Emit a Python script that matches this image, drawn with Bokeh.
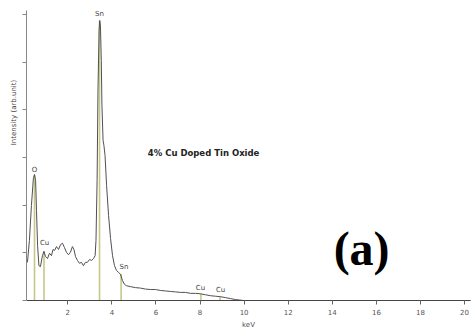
import math
from bokeh.plotting import figure
from bokeh.models import Range1d, FixedTicker, Label
from bokeh.core.properties import value
from bokeh.embed import file_html
from bokeh.resources import INLINE

# Spectrum (keV, intensity in arbitrary units; one unit = one y tick interval)
kev = [0.17, 0.26, 0.35, 0.44, 0.49, 0.54, 0.58, 0.63, 0.69, 0.76, 0.85, 0.92,
       0.99, 1.08, 1.17, 1.26, 1.33, 1.40, 1.49, 1.58, 1.67, 1.76, 1.85, 1.94,
       2.03, 2.12, 2.21, 2.28, 2.35, 2.44, 2.53, 2.62, 2.71, 2.80, 2.89, 2.99,
       3.08, 3.17, 3.24, 3.28, 3.33, 3.37, 3.42, 3.45, 3.48, 3.52, 3.55, 3.60,
       3.64, 3.69, 3.76, 3.85, 3.94, 4.03, 4.12, 4.21, 4.30, 4.39, 4.48, 4.57,
       4.66, 4.85, 5.07, 5.30, 5.52, 5.75, 5.98, 6.21, 6.44, 6.66, 6.89, 7.11,
       7.34, 7.57, 7.80, 8.02, 8.25, 8.48, 8.70, 8.93, 9.15, 9.38, 9.60, 9.97,
       12.0, 16.0, 20.3]
intensity = [0.80, 1.26, 1.99, 2.56, 2.64, 2.52, 1.89, 1.15, 0.73, 0.71, 0.94, 1.03,
             0.92, 0.88, 0.99, 0.94, 1.07, 1.05, 1.13, 1.07, 1.17, 1.20, 1.11, 1.01,
             0.96, 1.01, 1.13, 1.07, 0.92, 0.84, 0.78, 0.80, 0.73, 0.80, 0.80, 0.86,
             0.84, 0.88, 0.94, 1.26, 2.52, 4.41, 5.66, 5.87, 5.77, 5.03, 4.09, 3.36,
             3.25, 3.04, 2.41, 1.78, 1.30, 0.94, 0.73, 0.63, 0.59, 0.55, 0.42, 0.34,
             0.31, 0.29, 0.27, 0.26, 0.24, 0.23, 0.23, 0.21, 0.20, 0.19, 0.18, 0.17,
             0.17, 0.15, 0.15, 0.14, 0.12, 0.10, 0.09, 0.08, 0.06, 0.04, 0.02, 0.0,
             0.0, 0.0, 0.0]

# Element marker lines
line_kev = [0.49, 0.92, 3.44, 4.42, 8.04, 8.91]
line_top = [2.64, 1.03, 5.87, 0.56, 0.14, 0.08]

# Element labels
lab_text = ["O", "Cu", "Sn", "Sn", "Cu", "Cu"]
lab_kev = [0.49, 0.95, 3.44, 4.55, 8.02, 8.93]
lab_y = [2.74, 1.20, 6.00, 0.70, 0.27, 0.22]

x_ticks = [2, 4, 6, 8, 10, 12, 14, 16, 18, 20]
y_ticks = [0, 1, 2, 3, 4, 5, 6]

p = figure(width=472, height=333, output_backend="svg", toolbar_location=None,
           x_range=Range1d(0.127, 20.27), y_range=Range1d(0, 6.08),
           min_border_left=26, min_border_right=2, min_border_top=10,
           min_border_bottom=33)
p.outline_line_color = None
p.grid.visible = False
p.background_fill_color = "white"

p.segment(x0=line_kev, y0=[0] * len(line_kev), x1=line_kev, y1=line_top,
          line_color="#c5c888", line_width=1.6)
p.line(kev, intensity, line_color="#505050", line_width=1)

p.text(x=lab_kev, y=lab_y, text=lab_text, text_font=value("DejaVu Sans"),
       text_font_size="7px", text_color="#444444", text_align="center",
       text_baseline="middle")

p.text(x=[8.16], y=[3.10], text=["4% Cu Doped Tin Oxide"],
       text_font=value("DejaVu Sans"), text_font_size="8.5px",
       text_font_style="bold", text_color="#222222", text_align="center",
       text_baseline="middle")

p.text(x=[15.33], y=[1.09], text=["(a)"], text_font=value("Liberation Serif"),
       text_font_size="48px", text_font_style="bold", text_color="black",
       text_align="center", text_baseline="middle")

# x axis
xa = p.xaxis[0]
xa.ticker = FixedTicker(ticks=x_ticks)
xa.axis_label = "keV"
xa.axis_label_text_font = "DejaVu Sans"
xa.axis_label_text_font_size = "7px"
xa.axis_label_text_font_style = "normal"
xa.axis_label_text_color = "#555555"
xa.axis_label_standoff = 3
xa.major_label_text_font = "DejaVu Sans"
xa.major_label_text_font_size = "7px"
xa.major_label_text_color = "#555555"
xa.major_label_standoff = 4
xa.axis_line_color = "#444444"
xa.axis_line_width = 1.2
xa.major_tick_line_color = "#666666"
xa.major_tick_in = 0
xa.major_tick_out = 4
xa.minor_tick_line_color = None

# y axis: unlabeled ticks drawn as minor ticks
ya = p.yaxis[0]
ya.ticker = FixedTicker(ticks=[], minor_ticks=y_ticks)
ya.axis_label = None
ya.axis_line_color = "#888888"
ya.major_tick_line_color = None
ya.minor_tick_line_color = "#888888"
ya.minor_tick_in = 0
ya.minor_tick_out = 4

# y title placed in the left side panel
p.add_layout(Label(x=-1, y=188, x_units="screen", y_units="screen",
                   text="Intensity (arb.unit)", angle=math.pi / 2,
                   text_font="DejaVu Sans", text_font_size="7px",
                   text_color="#444444", text_align="center",
                   text_baseline="middle"), "left")

open("out.html", "w").write(file_html(p, INLINE))
